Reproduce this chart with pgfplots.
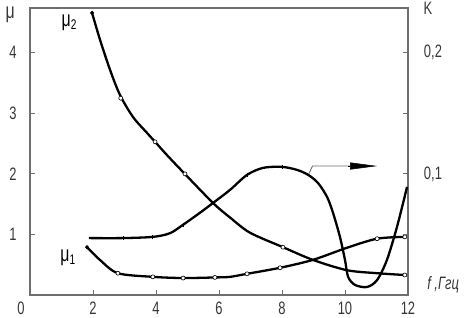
\documentclass[border=0pt]{standalone}
\usepackage{fontspec}
\setmainfont{Liberation Sans}[FakeStretch=0.72]
\usepackage{pgfplots}
\pgfplotsset{compat=1.18}
\usetikzlibrary{arrows.meta}
\definecolor{axisgray}{RGB}{110,110,110}
\definecolor{labelgray}{RGB}{55,55,55}
\newcommand\tickfont{\fontsize{18}{18}\selectfont}
\newcommand\mufont{\fontsize{22}{22}\selectfont}
\newcommand\subfont{\fontsize{14}{14}\selectfont}
\begin{document}
\begin{tikzpicture}
\begin{axis}[name=main, at={(0,0)}, anchor=south west,
  scale only axis, width=378pt, height=287pt,
  xmin=0, xmax=12, ymin=0, ymax=4.74,
  xtick={2,4,6,8,10,12}, ytick={1,2,3,4},
  xtick pos=bottom, ytick pos=left, tick align=inside,
  major tick length=5pt,
  axis line style={draw=axisgray, line width=1.2pt},
  tick style={draw=axisgray, line width=1pt},
  every tick label/.append style={font=\tickfont, text=labelgray, inner sep=0pt},
  xticklabel style={anchor=center, yshift=-13pt},
  yticklabel style={anchor=center, xshift=-17pt},
  /pgf/number format/assume math mode=true,
  clip=false]
% mu2
\addplot[black, line width=2.3pt, smooth, tension=0.5] coordinates {
(1.97,4.66) (2.22,4.22) (2.54,3.72) (2.86,3.30) (3.27,2.94) (3.71,2.68)
(3.97,2.53) (4.35,2.31) (4.86,2.03) (5.81,1.52) (6.35,1.28) (6.98,1.03) (8.03,0.79)
(8.98,0.58) (10.06,0.41) (11.02,0.36) (11.9,0.33)};
% mu1
\addplot[black, line width=2.3pt, smooth, tension=0.5] coordinates {
(1.81,0.79) (2.22,0.58) (2.79,0.36) (3.9,0.30) (4.86,0.28) (5.87,0.29)
(6.35,0.30) (6.89,0.35) (7.94,0.45) (8.98,0.58) (10.06,0.78) (11.02,0.93) (11.9,0.96)};
% measured points
\addplot[only marks, mark=*, mark size=2pt, mark options={draw=black, fill=white, line width=0.6pt}] coordinates {
(2.88,3.25) (3.97,2.53) (4.92,2.00) (8.03,0.79) (11.9,0.33)
(2.79,0.36) (3.9,0.30) (4.86,0.28) (5.87,0.29) (6.89,0.35) (7.94,0.45) (11.02,0.93) (11.9,0.96)};
\addplot[only marks, mark=*, mark size=1.8pt, black] coordinates {(1.97,4.66) (1.81,0.79)};
% labels
\node[font=\mufont, text=labelgray] at (axis cs:-0.63,4.62) {μ};
\node[font=\mufont, text=black] at (axis cs:1.24,4.5) {μ\raisebox{-3pt}{\subfont 2}};
\node[font=\mufont, text=black] at (axis cs:1.2,0.61) {μ\raisebox{-3pt}{\subfont 1}};
\node[font=\tickfont, text=labelgray, inner sep=0pt] at (axis cs:-0.29,-0.215) {0};
\node[font=\tickfont, text=labelgray] at (axis cs:12.63,4.73) {K};
\node[font=\tickfont, text=labelgray, anchor=west] at (axis cs:12.5,0.165) {\textit{f ,Ггц}};
% arrow
\draw[axisgray, line width=0.9pt] (axis cs:8.83,1.98) -- (axis cs:8.97,2.13) -- (axis cs:10.3,2.13);
\draw[black, line width=0.5pt, -{Triangle[length=27pt,width=7pt]}] (axis cs:10.1,2.13) -- (axis cs:11.02,2.13);
\end{axis}
\begin{axis}[at={(0,0)}, anchor=south west,
  scale only axis, width=378pt, height=287pt,
  xmin=0, xmax=12, ymin=0, ymax=0.237,
  hide x axis,
  ytick={0.05,0.1,0.15,0.2}, yticklabels={{},{0,1},{},{0,2}},
  ytick pos=right, yticklabel pos=right, tick align=inside,
  major tick length=5pt,
  axis line style={draw=axisgray, line width=1.2pt},
  tick style={draw=axisgray, line width=1pt},
  every tick label/.append style={font=\tickfont, text=labelgray, inner sep=0pt},
  yticklabel style={anchor=center, xshift=25pt},
  clip=false]
% K
\addplot[black, line width=2.3pt, smooth, tension=0.5] coordinates {
(1.87,0.047) (2.95,0.047) (3.9,0.048) (4.44,0.051) (4.86,0.058) (5.40,0.068)
(5.81,0.076) (6.35,0.0868) (6.89,0.0992) (7.40,0.105) (8.0,0.1058) (8.48,0.1033)
(8.83,0.0992) (9.14,0.0926) (9.43,0.081) (9.62,0.0678) (9.84,0.0479) (10.0,0.0289)
(10.1,0.0149) (10.32,0.0083) (10.7,0.0066) (11.02,0.0124) (11.33,0.0289)
(11.65,0.0562) (11.97,0.0893)};
\addplot[only marks, mark=|, mark size=2.2pt, mark options={line width=0.8pt}, black] coordinates {
(2.95,0.047) (3.9,0.048) (4.86,0.058) (6.89,0.0992) (8.0,0.1058)};
\end{axis}
\pgfresetboundingbox
\useasboundingbox ([xshift=-30pt,yshift=-22pt]main.south west) rectangle ([xshift=56pt,yshift=8pt]main.north east);
\end{tikzpicture}
\end{document}
